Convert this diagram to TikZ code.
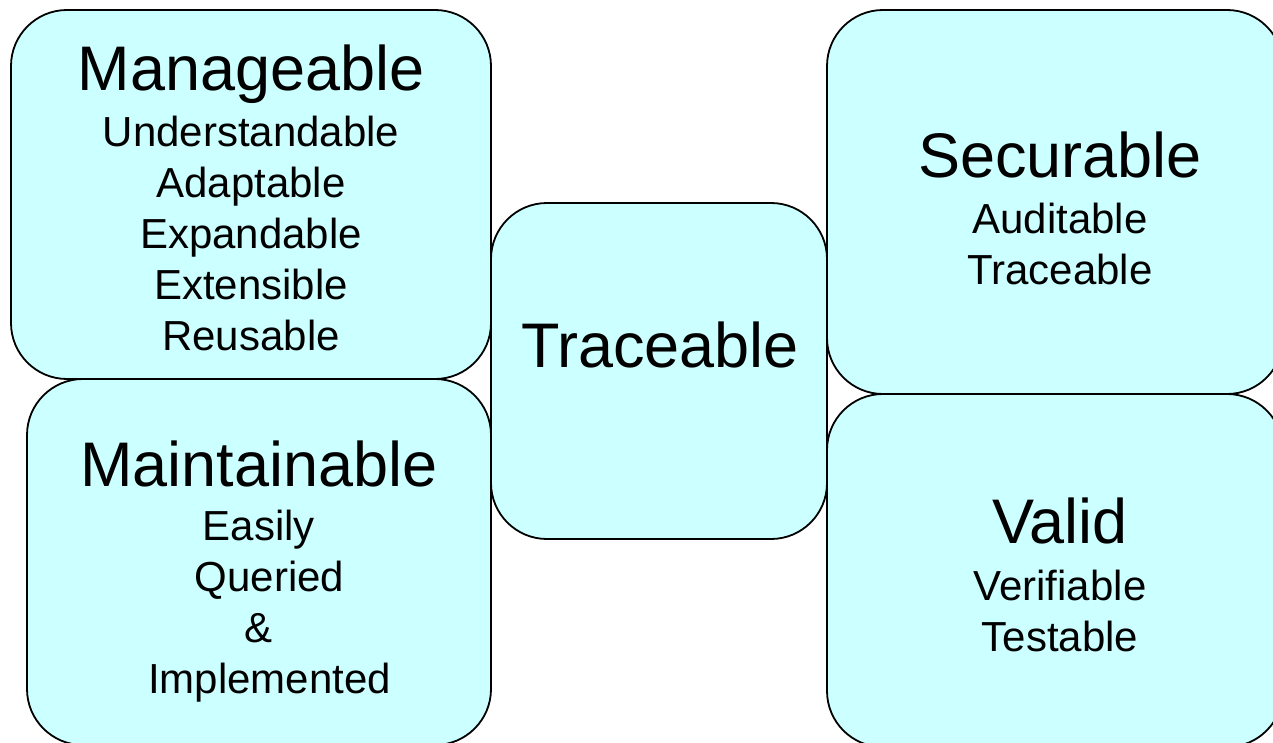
\documentclass[tikz,border=0pt]{standalone}
\usepackage{fontspec}
\setmainfont{Liberation Sans}
\definecolor{boxcyan}{RGB}{204,255,255}
\tikzset{
  box/.style={draw=black, line width=1.8pt, fill=boxcyan, rounded corners=56pt, inner sep=0pt},
  title/.style={anchor=base, inner sep=0pt, font=\fontsize{63}{63}\selectfont},
  items/.style={anchor=north, inner sep=0pt, align=center, font=\fontsize{42}{51}\selectfont},
}

\begin{document}
\begin{tikzpicture}[x=1pt, y=-1pt]
  \useasboundingbox (0,0) rectangle (1273,743);
  \clip (0,0) rectangle (1273,743);
  % boxes
  \node[box, minimum width=480pt, minimum height=369pt] (manage) at (251,194.5) {};
  \node[box, minimum width=464pt, minimum height=366pt] (maintain) at (259,562) {};
  \node[box, minimum width=336pt, minimum height=336pt] (trace) at (659,371) {};
  \node[box, minimum width=456pt, minimum height=384pt] (secure) at (1055,202) {};
  \node[box, minimum width=456pt, minimum height=353pt] (valid) at (1055,570.5) {};
  % texts
  \node[title] (manageT) at (251,91) {Manageable};
  \node[items] (manageL) at (251,116) {Understandable\\Adaptable\\Expandable\\Extensible\\Reusable};
  \node[title] (maintainT) at (259,486) {Maintainable};
  \node[items] (maintainL) at (259,510) {Easily\\\hspace*{0.5em}Queried\\\&\\\hspace*{0.5em}Implemented};
  \node[title] (traceT) at (660,367) {Traceable};
  \node[title] (secureT) at (1060,178) {Securable};
  \node[items] (secureL) at (1060,203) {Auditable\\Traceable};
  \node[title] (validT) at (1060,543) {Valid};
  \node[items] (validL) at (1060,570) {Verifiable\\Testable};
\end{tikzpicture}
\end{document}
